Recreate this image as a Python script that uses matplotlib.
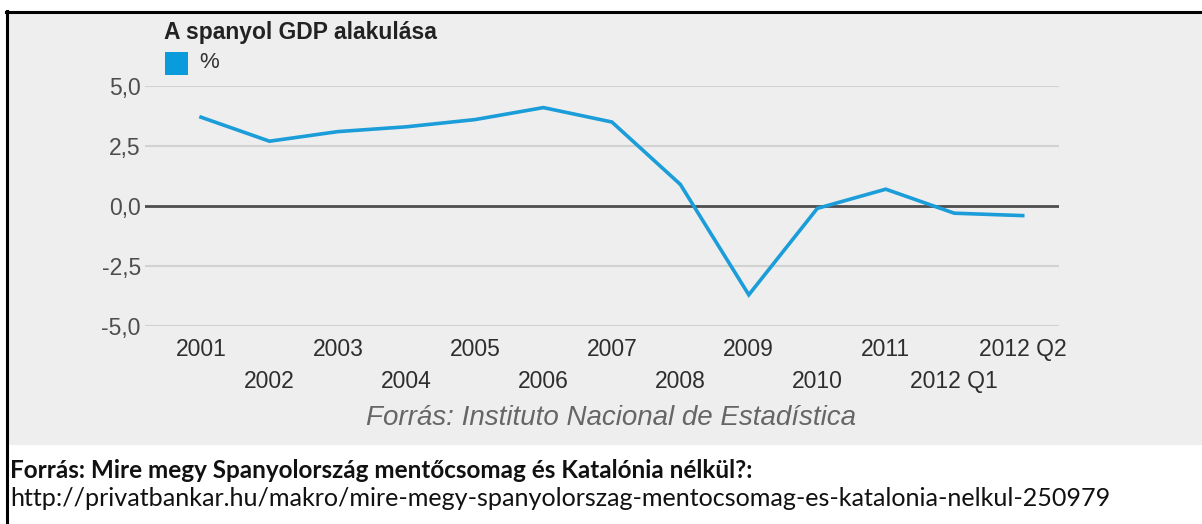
import matplotlib
matplotlib.use("Agg")
import matplotlib.pyplot as plt
from matplotlib.patches import Rectangle
from matplotlib.lines import Line2D

# ---- data ----
categories = ["2001", "2002", "2003", "2004", "2005", "2006", "2007",
              "2008", "2009", "2010", "2011", "2012 Q1", "2012 Q2"]
gdp_values = [3.7, 2.7, 3.1, 3.3, 3.6, 4.1, 3.5, 0.9, -3.7, -0.1, 0.7, -0.3, -0.4]
y_ticks = [-5.0, -2.5, 0.0, 2.5, 5.0]
y_tick_labels = ["-5,0", "-2,5", "0,0", "2,5", "5,0"]
title_text = "A spanyol GDP alakulása"
legend_text = "%"
source_text = "Forrás: Instituto Nacional de Estadística"
footer_bold = "Forrás: Mire megy Spanyolország mentőcsomag és Katalónia nélkül?:"
footer_url = "http://privatbankar.hu/makro/mire-megy-spanyolorszag-mentocsomag-es-katalonia-nelkul-250979"

W, H = 1202, 524
DPI = 100
fig = plt.figure(figsize=(W / DPI, H / DPI), dpi=DPI, facecolor="white")

def fx(px):
    return px / W

def fy(py):
    return 1 - py / H

BG = "#eeeeee"
LINE_C = "#1b9dd9"
FONT = ["Liberation Sans", "DejaVu Sans"]

# gray panel + black border
fig.patches.append(Rectangle((fx(7), fy(445)), fx(W) - fx(7), fy(12) - fy(445),
                             transform=fig.transFigure, facecolor=BG,
                             edgecolor="none", zorder=-5))
fig.lines.append(Line2D([fx(6), fx(W)], [fy(12), fy(12)], transform=fig.transFigure,
                        color="black", lw=2.2, zorder=5))
fig.lines.append(Line2D([fx(7), fx(7)], [fy(11), fy(H)], transform=fig.transFigure,
                        color="black", lw=2.2, zorder=5))

# axes
ax = fig.add_axes([fx(145), fy(326), fx(1059) - fx(145), fy(86) - fy(326)])
ax.set_zorder(1)
ax.set_facecolor("none")
x = list(range(len(categories)))
ax.set_xlim(-0.818, 12.53)
ax.set_ylim(-5, 5)

for yv in y_ticks:
    if yv != 0:
        ax.axhline(yv, color="#d2d2d2", lw=1.5, zorder=1)
ax.axhline(0, color="#4d4d4d", lw=2.0, zorder=2)

ax.plot(x, gdp_values, color=LINE_C, lw=2.6, zorder=3, solid_joinstyle="miter")

for s in ax.spines.values():
    s.set_visible(False)

ax.set_yticks(y_ticks)
ax.set_yticklabels(y_tick_labels, fontsize=16.5, color="#4d4d4d", family=FONT)
ax.tick_params(axis="y", length=0, pad=3)

ax.set_xticks(x)
ax.set_xticklabels(categories, fontsize=16.5, color="#2e2e2e", family=FONT)
ax.tick_params(axis="x", length=0)
for i, tick in enumerate(ax.xaxis.get_major_ticks()):
    tick.set_pad(8.5 if i % 2 == 0 else 31.5)

# title and legend
fig.text(fx(164), fy(33), title_text, fontsize=16.5, fontweight="bold",
         color="#222222", family=FONT, va="center", ha="left")
fig.patches.append(Rectangle((fx(165), fy(75)), fx(188) - fx(165), fy(52) - fy(75),
                             transform=fig.transFigure, facecolor="#0a9bdc",
                             edgecolor="none", zorder=3))
fig.text(fx(199), fy(63), legend_text, fontsize=16, color="#333333",
         family=FONT, va="center", ha="left")

# source inside chart
fig.text(fx(611), fy(418), source_text, fontsize=20, style="italic",
         color="#666666", family=FONT, va="center", ha="center")

# footer texts, sized to reference widths
FOOT = ["Lato", "DejaVu Sans"]
t1 = fig.text(fx(10), fy(471), footer_bold, fontsize=15, fontweight="bold",
              color="#111111", family=FOOT, va="center", ha="left")
t2 = fig.text(fx(10), fy(498), footer_url, fontsize=15, color="#111111",
              family=FOOT, va="center", ha="left")
fig.canvas.draw()
r = fig.canvas.get_renderer()
for t, target in ((t1, 747), (t2, 1103)):
    w = t.get_window_extent(r).width
    t.set_fontsize(t.get_fontsize() * target / w)

fig.savefig("out.png", dpi=DPI, facecolor="white")
